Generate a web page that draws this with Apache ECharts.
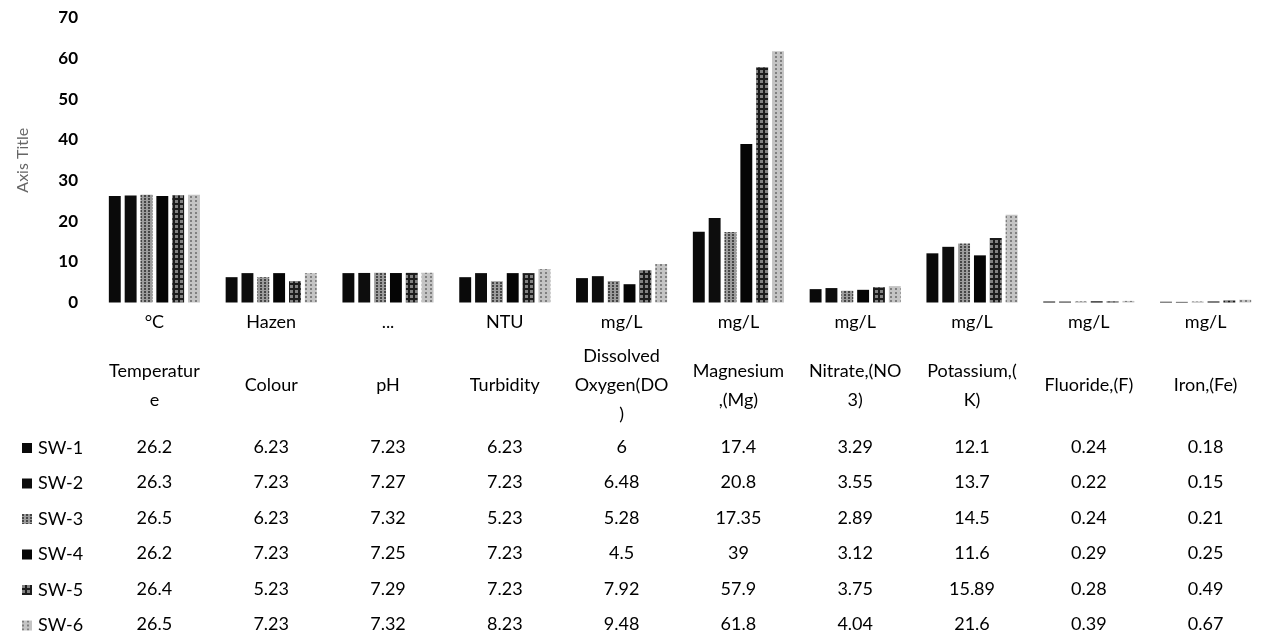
<!DOCTYPE html>
<html>
<head>
<meta charset="utf-8">
<script src="https://cdn.jsdelivr.net/npm/echarts@6/dist/echarts.min.js"></script>
<style>
	html, body { margin: 0; padding: 0; background: #fff; }
	#main { width: 1264px; height: 639px; }
</style>
</head>
<body>
<div id="main"></div>
<script>
// units row and parameter names (table header)
var units = ['°C', 'Hazen', '...', 'NTU', 'mg/L', 'mg/L', 'mg/L', 'mg/L', 'mg/L', 'mg/L'];
var params = ['Temperatur\ne', 'Colour', 'pH', 'Turbidity', 'Dissolved\nOxygen(DO\n)', 'Magnesium\n,(Mg)', 'Nitrate,(NO\n3)', 'Potassium,(\nK)', 'Fluoride,(F)', 'Iron,(Fe)'];

// sample sites
var sites = ['SW-1', 'SW-2', 'SW-3', 'SW-4', 'SW-5', 'SW-6'];
var sw1 = [26.2, 6.23, 7.23, 6.23, 6, 17.4, 3.29, 12.1, 0.24, 0.18];
var sw2 = [26.3, 7.23, 7.27, 7.23, 6.48, 20.8, 3.55, 13.7, 0.22, 0.15];
var sw3 = [26.5, 6.23, 7.32, 5.23, 5.28, 17.35, 2.89, 14.5, 0.24, 0.21];
var sw4 = [26.2, 7.23, 7.25, 7.23, 4.5, 39, 3.12, 11.6, 0.29, 0.25];
var sw5 = [26.4, 5.23, 7.29, 7.23, 7.92, 57.9, 3.75, 15.89, 0.28, 0.49];
var sw6 = [26.5, 7.23, 7.32, 8.23, 9.48, 61.8, 4.04, 21.6, 0.39, 0.67];
var yTicks = [0, 10, 20, 30, 40, 50, 60, 70];

var allRows = [sw1, sw2, sw3, sw4, sw5, sw6];
var barColors = ['#0a0a0a', '#0d0d0d', '#9c9c9c', '#050505', '#1c1c1c', '#c4c4c4'];
// dither-like textures of the scanned bars
var barDecals = [
	null,
	null,
	{ symbol: 'rect', symbolSize: 1, dashArrayX: [2, 2], dashArrayY: [2, 1], color: 'rgba(0,0,0,0.55)' },
	null,
	{ symbol: 'rect', symbolSize: 1, dashArrayX: [3, 2], dashArrayY: [3, 2], color: 'rgba(255,255,255,0.45)' },
	{ symbol: 'rect', symbolSize: 1, dashArrayX: [2, 3], dashArrayY: [2, 2], color: 'rgba(0,0,0,0.35)' }
];

var fontName = 'Lato';
var chart = echarts.init(document.getElementById('main'));

// x axes: one for the bars, the rest just draw table rows under the plot
function tableAxis(labels, offset, size) {
	return {
		type: 'category',
		gridIndex: 0,
		position: 'bottom',
		offset: offset,
		data: labels,
		axisLine: { show: false },
		axisTick: { show: false },
		splitLine: { show: false },
		axisLabel: {
			interval: 0,
			margin: 0,
			verticalAlign: 'middle',
			fontFamily: fontName,
			fontSize: size,
			lineHeight: 29,
			color: '#000'
		}
	};
}

var xAxes = [tableAxis(units, 20, 18), tableAxis(params, 83, 18)];
for (var i = 0; i < allRows.length; i++) {
	xAxes.push(tableAxis(allRows[i].map(function (v) { return String(v); }), 144.5 + i * 35.5, 18));
}

var series = [];
for (var s = 0; s < sites.length; s++) {
	var style = { color: barColors[s] };
	if (barDecals[s]) {
		style.decal = barDecals[s];
	}
	series.push({
		name: sites[s],
		type: 'bar',
		xAxisIndex: 0,
		data: allRows[s],
		barGap: '33%',
		barCategoryGap: '22%',
		itemStyle: style
	});
}

var option = {
	backgroundColor: '#fff',
	animation: false,
	grid: {
		left: 96,
		top: 18,
		right: -13,
		height: 285
	},
	legend: {
		orient: 'vertical',
		left: 17,
		top: 433,
		height: 240,
		icon: 'rect',
		itemWidth: 10,
		itemHeight: 10,
		itemGap: 15.5,
		data: sites,
		textStyle: {
			fontFamily: fontName,
			fontSize: 18,
			lineHeight: 20,
			color: '#000',
			padding: [0, 0, 0, 1]
		}
	},
	xAxis: xAxes,
	yAxis: {
		type: 'value',
		min: yTicks[0],
		max: yTicks[yTicks.length - 1],
		interval: 10,
		name: 'Axis Title',
		nameLocation: 'middle',
		nameGap: 65,
		nameTextStyle: { fontFamily: fontName, fontSize: 16, color: '#666' },
		axisLine: { show: false },
		axisTick: { show: false },
		splitLine: { show: false },
		axisLabel: {
			margin: 18,
			fontFamily: fontName,
			fontSize: 17,
			fontWeight: 'bold',
			color: '#000'
		}
	},
	series: series
};

chart.setOption(option);
</script>
</body>
</html>
